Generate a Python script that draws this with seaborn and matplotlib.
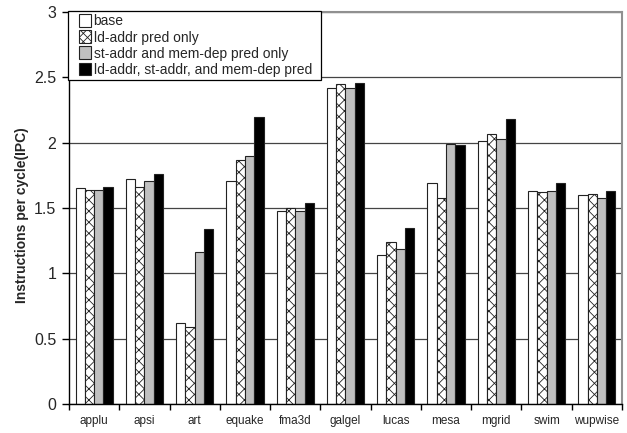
import matplotlib
matplotlib.use("Agg")
import matplotlib.pyplot as plt
from matplotlib.patches import Patch, Rectangle
from matplotlib.legend_handler import HandlerPatch
import seaborn as sns
import pandas as pd

benchmarks = ["applu", "apsi", "art", "equake", "fma3d", "galgel",
              "lucas", "mesa", "mgrid", "swim", "wupwise"]
series_names = ["base", "ld-addr pred only", "st-addr and mem-dep pred only",
                "ld-addr, st-addr, and mem-dep pred"]
base = [1.65, 1.72, 0.62, 1.71, 1.48, 2.42, 1.14, 1.69, 2.01, 1.63, 1.60]
ld_addr = [1.64, 1.66, 0.59, 1.87, 1.50, 2.45, 1.24, 1.58, 2.07, 1.62, 1.61]
st_addr_memdep = [1.64, 1.71, 1.16, 1.90, 1.48, 2.42, 1.19, 1.99, 2.03, 1.63, 1.58]
all_pred = [1.66, 1.76, 1.34, 2.20, 1.54, 2.46, 1.35, 1.98, 2.18, 1.69, 1.63]
y_ticks = [0, 0.5, 1, 1.5, 2, 2.5, 3]
y_tick_labels = ["0", "0.5", "1", "1.5", "2", "2.5", "3"]

rows = []
for name, vals in zip(series_names, [base, ld_addr, st_addr_memdep, all_pred]):
    for b, v in zip(benchmarks, vals):
        rows.append({"benchmark": b, "config": name, "ipc": v})
df = pd.DataFrame(rows)

sns.set_style("white")
plt.rcParams["font.family"] = ["Liberation Sans", "DejaVu Sans"]
plt.rcParams["hatch.linewidth"] = 0.6

fig = plt.figure(figsize=(6.27, 4.33), dpi=100)
ax = fig.add_axes([0.110, 0.067, 0.882, 0.905])

fills = ["white", "white", "#c0c0c0", "black"]
hatches = [None, "xxx", None, None]
edge = "#222222"

sns.barplot(data=df, x="benchmark", y="ipc", hue="config",
            hue_order=series_names, order=benchmarks,
            palette=fills, width=0.74, saturation=1,
            edgecolor=edge, linewidth=0.8, ax=ax, legend=False)

for container, h in zip(ax.containers, hatches):
    for bar in container:
        if h:
            bar.set_hatch(h)

ax.set_ylim(0, 3)
ax.set_xlim(-0.5, len(benchmarks) - 0.5)
ax.set_yticks(y_ticks)
ax.set_yticklabels(y_tick_labels, fontsize=11.5)
ax.yaxis.grid(True, color="#444444", linewidth=0.9)
ax.set_axisbelow(True)

ax.set_xticks([i + 0.5 for i in range(-1, len(benchmarks))], minor=True)
ax.tick_params(axis="x", which="major", length=0, labelsize=8.5, pad=8)
ax.tick_params(axis="x", which="minor", length=4, width=1, color="black",
               direction="out", bottom=True)
ax.tick_params(axis="y", length=5, width=1, color="black", direction="out",
               left=True, pad=4)

ax.set_xlabel("")
ax.set_ylabel("Instructions per cycle(IPC)", fontsize=10, fontweight="bold")
ax.yaxis.set_label_coords(-0.072, 0.482)

for side in ["left", "bottom"]:
    ax.spines[side].set_color("black")
    ax.spines[side].set_linewidth(1.0)
for side in ["top", "right"]:
    ax.spines[side].set_visible(True)
    ax.spines[side].set_color("#909090")
    ax.spines[side].set_linewidth(1.5)


class SquareHandler(HandlerPatch):
    """Small square swatch drawn at the right end of the handle box."""

    def create_artists(self, legend, orig_handle, xdescent, ydescent,
                       width, height, fontsize, trans):
        size = 9.0
        sq = Rectangle((width - size - xdescent, (height - size) / 2 - ydescent),
                       size, size,
                       facecolor=orig_handle.get_facecolor(),
                       edgecolor=orig_handle.get_edgecolor(),
                       linewidth=orig_handle.get_linewidth(),
                       hatch=orig_handle.get_hatch(),
                       transform=trans)
        return [sq]


legend_hatches = [None, "xxxx", None, None]
handles = [Patch(facecolor=f, edgecolor=edge, linewidth=0.8, hatch=h)
           for f, h in zip(fills, legend_hatches)]
leg = ax.legend(handles, series_names, loc="upper left",
                bbox_to_anchor=(-0.002, 1.003, 0.4575, 0.0), mode="expand",
                fontsize=10, frameon=True, fancybox=False, framealpha=1,
                edgecolor="black", borderpad=0.25, labelspacing=0.15,
                handlelength=1.45, handleheight=0.7, handletextpad=0.15,
                borderaxespad=0,
                handler_map={Patch: SquareHandler()})
leg.get_frame().set_linewidth(0.9)

fig.savefig("out.png", dpi=100)
